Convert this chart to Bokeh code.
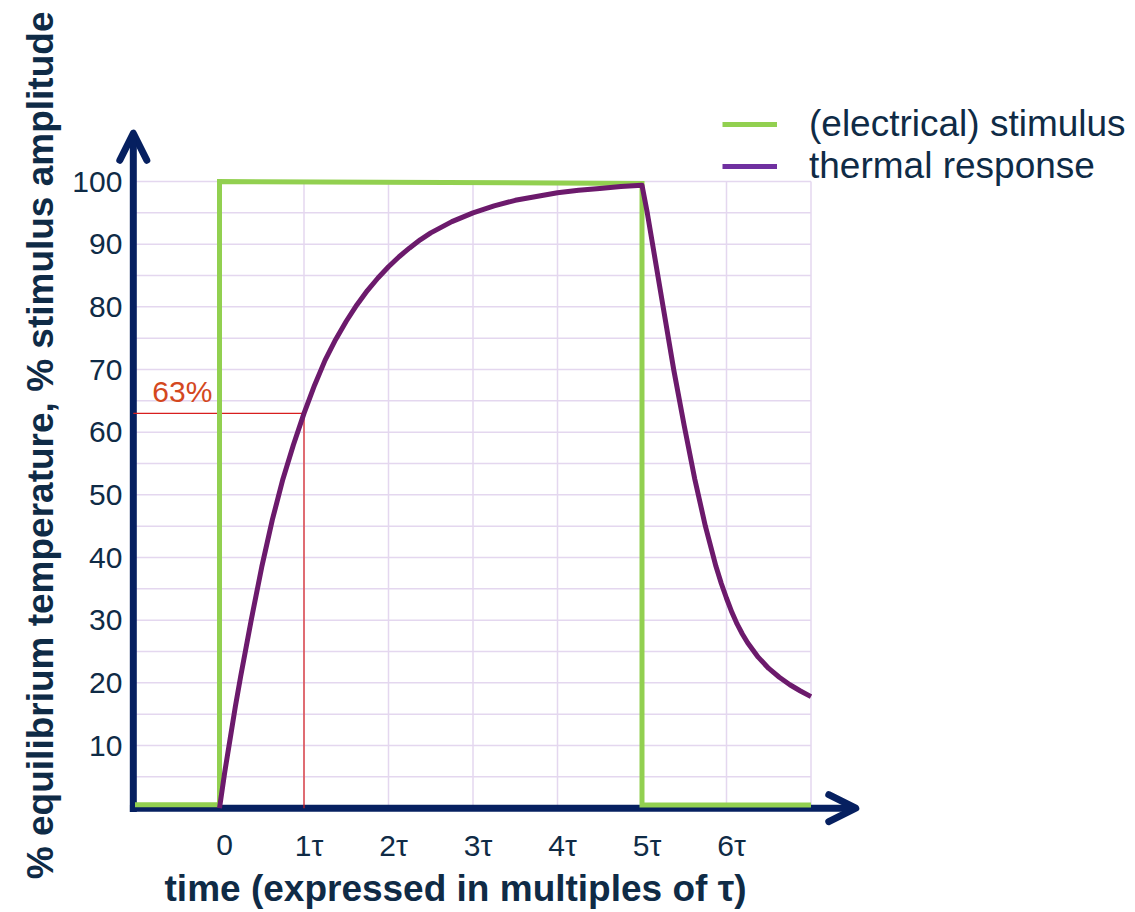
import math
from bokeh.plotting import figure
from bokeh.models import Arrow, OpenHead, Legend, LegendItem, Range1d
from bokeh.core.properties import value
from bokeh.embed import file_html
from bokeh.resources import INLINE

# ---------------- data ----------------
series_names = ["(electrical) stimulus", "thermal response"]

stim_x = [-1.0, 0.0, 0.0, 5.0, 5.0, 7.0]
stim_y = [0.56, 0.56, 100.0, 99.7, 0.5, 0.5]

resp_x = [0, 0.0625, 0.125, 0.1875, 0.25, 0.375, 0.5, 0.625, 0.75, 0.875, 1.0, 1.125, 1.25,
          1.375, 1.5, 1.625, 1.75, 1.875, 2.0, 2.125, 2.25, 2.375, 2.5, 2.75, 3.0, 3.25,
          3.5, 3.75, 4.0, 4.25, 4.5, 4.75, 5.0, 5.0625, 5.125, 5.25, 5.375, 5.5,
          5.625, 5.75, 5.875, 5.9375, 6.0, 6.0625, 6.125, 6.1875, 6.25, 6.375, 6.5,
          6.625, 6.75, 6.875, 7.0]
resp_y = [0, 5.8, 11, 16.2, 21, 30, 38.5, 46, 52.5, 58, 63, 67.5, 71.5,
          74.8, 77.7, 80.3, 82.6, 84.6, 86.4, 88.0, 89.4, 90.7, 91.8, 93.6, 95.0, 96.1,
          97.0, 97.6, 98.2, 98.6, 98.9, 99.2, 99.4, 95, 90, 80, 70, 61,
          52.5, 45, 38.6, 35.9, 33.5, 31.3, 29.4, 27.8, 26.4, 24.1, 22.3,
          20.9, 19.7, 18.7, 17.8]

y_ticks = [10, 20, 30, 40, 50, 60, 70, 80, 90, 100]
y_tick_labels = ["10", "20", "30", "40", "50", "60", "70", "80", "90", "100"]
x_ticks = [0, 1, 2, 3, 4, 5, 6]
x_tick_labels = ["0", "1τ", "2τ", "3τ", "4τ", "5τ", "6τ"]
grid_y = [5, 10, 15, 20, 25, 30, 35, 40, 45, 50, 55, 60, 65, 70, 75, 80, 85, 90, 95, 100]
grid_x = [0, 1, 2, 3, 4, 5, 6, 7]

marker_time = 1.0
marker_level = 63
marker_label = "63%"

x_title = "time (expressed in multiples of τ)"
y_title = "% equilibrium temperature, % stimulus amplitude"

# ---------------- style / layout ----------------
W, H = 1135, 912
X0_PX, XS = 219.0, 84.5      # px of x=0, px per tau
Y0_PX, YS = 807.7, 6.267     # px of y=0, px per unit
AX_X = -1.02                 # where the vertical axis sits
X_ARROW_END = 7.53
Y_ARROW_END = 107.7

NAVY = "#062060"
TEXT = "#0F2B46"
GREEN = "#92D050"
PURPLE = "#6C1A6C"
PURPLE_LEG = "#7030A0"
GRID = "#E4D7EF"
RED = "#D81E1E"
RED_TXT = "#D4481E"
FONT = "Liberation Sans"

p = figure(width=W, height=H, output_backend="svg", toolbar_location=None,
           x_range=Range1d(-X0_PX / XS, (W - X0_PX) / XS),
           y_range=Range1d((Y0_PX - H) / YS, Y0_PX / YS),
           x_axis_location=None, y_axis_location=None,
           min_border=0, outline_line_color=None)
p.xgrid.visible = False
p.ygrid.visible = False
p.background_fill_color = "white"
p.border_fill_color = "white"

# grid
p.segment(x0=[AX_X] * len(grid_y), x1=[grid_x[-1]] * len(grid_y), y0=grid_y, y1=grid_y,
          line_color=GRID, line_width=1.5, level="underlay")
p.segment(x0=grid_x, x1=grid_x, y0=[0] * len(grid_x), y1=[grid_y[-1]] * len(grid_x),
          line_color=GRID, line_width=1.5, level="underlay")

# axes with open arrow heads
for xs, ys, xe, ye in [(AX_X, -0.6, AX_X, Y_ARROW_END), (AX_X - 0.04, 0, X_ARROW_END, 0)]:
    p.add_layout(Arrow(end=OpenHead(size=27, line_color=NAVY, line_width=7, line_cap="round",
                                    line_join="round"),
                       x_start=xs, y_start=ys, x_end=xe, y_end=ye,
                       line_color=NAVY, line_width=7, level="underlay"))

# 63 % marker
p.line([AX_X, marker_time], [marker_level, marker_level], line_color=RED, line_width=1.2)
p.line([marker_time, marker_time], [0, marker_level], line_color=RED, line_width=1.2)
p.text(x=[AX_X], y=[marker_level], text=[marker_label], x_offset=19, y_offset=-22,
       text_font=value(FONT), text_font_size="30px", text_color=RED_TXT,
       text_align="left", text_baseline="middle")

# series
r_stim = p.line(stim_x, stim_y, line_color=GREEN, line_width=5, line_join="miter")
r_resp = p.line(resp_x, resp_y, line_color=PURPLE, line_width=5, line_join="round")
# legend swatch for the response (drawn as a single point, so invisible in the plot)
r_leg2 = p.line(resp_x[:1], resp_y[:1], line_color=PURPLE_LEG, line_width=5)

# tick labels
p.text(x=[AX_X] * len(y_ticks), y=y_ticks, text=y_tick_labels, x_offset=-11,
       text_font=value(FONT), text_font_size="30px", text_color=TEXT,
       text_align="right", text_baseline="middle")
p.text(x=x_ticks, y=[0] * len(x_ticks), text=x_tick_labels, x_offset=5, y_offset=37,
       text_font=value(FONT), text_font_size="30px", text_color=TEXT,
       text_align="center", text_baseline="middle")

# axis titles
p.text(x=[2.793], y=[0], y_offset=80, text=[x_title], text_font=value(FONT),
       text_font_size="37px", text_font_style="bold", text_color=TEXT,
       text_align="center", text_baseline="middle")
p.text(x=[-2.118], y=[57.9], text=[y_title], angle=math.pi / 2, text_font=value(FONT),
       text_font_size="37px", text_font_style="bold", text_color=TEXT,
       text_align="center", text_baseline="middle")

# legend
legend = Legend(items=[LegendItem(label=series_names[0], renderers=[r_stim]),
                       LegendItem(label=series_names[1], renderers=[r_leg2])],
                location=(722, 725), orientation="vertical",
                glyph_width=55, glyph_height=20, label_standoff=32, spacing=-5,
                padding=0, margin=0, border_line_color=None, background_fill_alpha=0,
                label_text_font=FONT, label_text_font_size="37px", label_text_color=TEXT)
p.add_layout(legend, "center")

open("out.html", "w").write(file_html(p, INLINE))
